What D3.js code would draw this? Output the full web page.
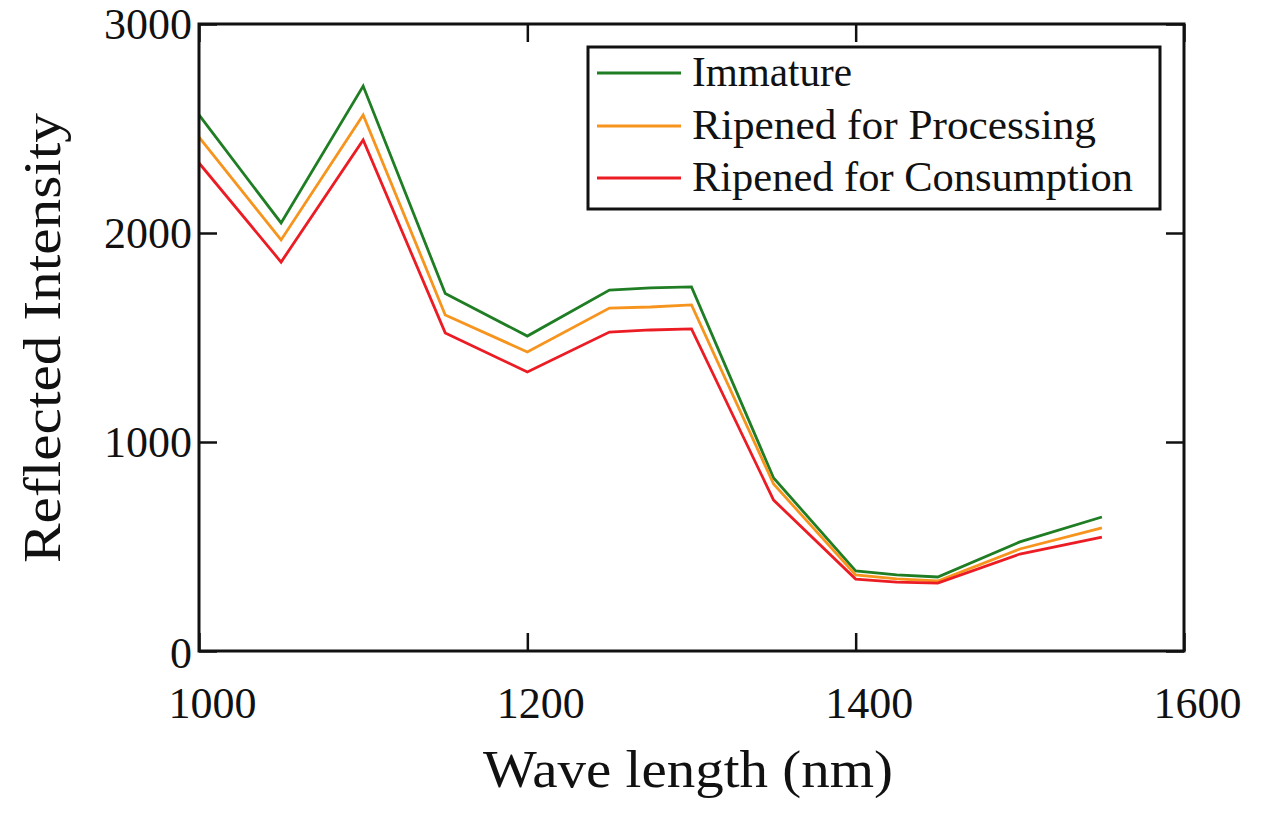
<!DOCTYPE html>
<html>
<head>
<meta charset="utf-8">
<script src="https://cdn.jsdelivr.net/npm/d3@7"></script>
<style>
  html, body { margin: 0; padding: 0; background: #fff; }
  svg { display: block; }
  text { font-family: "Liberation Serif", "Times New Roman", serif; fill: #111; }
</style>
</head>
<body>
<svg id="chart" width="1263" height="817"></svg>
<script>
// ---- data ----
const wavelengths = [1000, 1050, 1100, 1150, 1200, 1250, 1275, 1300, 1350, 1400, 1425, 1450, 1500, 1550];
const immature    = [2565, 2048, 2703, 1710, 1507, 1727, 1737, 1742, 828, 383, 364, 354, 522, 641];
const processing  = [2459, 1967, 2565, 1608, 1431, 1641, 1646, 1656, 799, 364, 345, 335, 488, 589];
const consumption = [2335, 1861, 2445, 1522, 1335, 1526, 1536, 1541, 722, 344, 330, 325, 464, 545];
const seriesNames = ["Immature", "Ripened for Processing", "Ripened for Consumption"];
const seriesColors = ["#1f7d23", "#f7941d", "#ec1c24"];
const xTicks = [1000, 1200, 1400, 1600];
const yTicks = [0, 1000, 2000, 3000];
const xTitle = "Wave length (nm)";
const yTitle = "Reflected Intensity";

const seriesValues = [immature, processing, consumption];

const svg = d3.select("#chart");
const L = 199, R = 1184, T = 24, B = 651;
const x = d3.scaleLinear().domain([1000, 1600]).range([L, R]);
const y = d3.scaleLinear().domain([0, 3000]).range([B, T]);
const FONT = 44;

// axes with inner ticks
const gBottom = svg.append("g").attr("transform", `translate(0,${B})`)
  .call(d3.axisBottom(x).tickValues(xTicks).tickSize(-18).tickPadding(36).tickFormat(d3.format("d")));
const gTop = svg.append("g").attr("transform", `translate(0,${T})`)
  .call(d3.axisTop(x).tickValues(xTicks).tickSize(-18).tickFormat(""));
const gLeft = svg.append("g").attr("transform", `translate(${L},0)`)
  .call(d3.axisLeft(y).tickValues(yTicks).tickSize(-18).tickPadding(7).tickFormat(d3.format("d")));
const gRight = svg.append("g").attr("transform", `translate(${R},0)`)
  .call(d3.axisRight(y).tickValues(yTicks).tickSize(-18).tickFormat(""));

[gBottom, gTop, gLeft, gRight].forEach(g => {
  g.select(".domain").remove();
  g.selectAll(".tick line").attr("stroke", "#111").attr("stroke-width", 2.5);
  g.selectAll("text").attr("font-size", FONT).attr("fill", "#111");
});
gBottom.selectAll("text").attr("x", 13);
gLeft.selectAll(".tick").filter(d => d === 0).select("text").attr("y", 2);

// lines
const line = d3.line().x((d, i) => x(wavelengths[i])).y(d => y(d));
svg.append("g").selectAll("path").data(seriesValues).join("path")
  .attr("d", d => line(d))
  .attr("fill", "none")
  .attr("stroke", (d, i) => seriesColors[i])
  .attr("stroke-width", 2.8)
  .attr("stroke-linejoin", "miter");

// frame
svg.append("rect").attr("x", L).attr("y", T).attr("width", R - L).attr("height", B - T)
  .attr("fill", "none").attr("stroke", "#111").attr("stroke-width", 3);

// legend
const lg = svg.append("g");
lg.append("rect").attr("x", 588).attr("y", 47).attr("width", 572).attr("height", 162)
  .attr("fill", "#fff").attr("stroke", "#111").attr("stroke-width", 3);
const rowY = [73, 126, 178];
const textLens = [160, 404, 441];
seriesNames.forEach((name, i) => {
  lg.append("line").attr("x1", 597).attr("x2", 681).attr("y1", rowY[i]).attr("y2", rowY[i])
    .attr("stroke", seriesColors[i]).attr("stroke-width", 3);
  lg.append("text").attr("x", 692).attr("y", rowY[i] + 13).attr("font-size", 42)
    .attr("textLength", textLens[i]).attr("lengthAdjust", "spacingAndGlyphs").text(name);
});

// titles
svg.append("text").attr("x", 688).attr("y", 787).attr("text-anchor", "middle")
  .attr("font-size", 52).attr("textLength", 410).attr("lengthAdjust", "spacingAndGlyphs").text(xTitle);
svg.append("text").attr("transform", `translate(60,338) rotate(-90)`).attr("text-anchor", "middle")
  .attr("font-size", 52).attr("textLength", 450).attr("lengthAdjust", "spacingAndGlyphs").text(yTitle);
</script>
</body>
</html>
